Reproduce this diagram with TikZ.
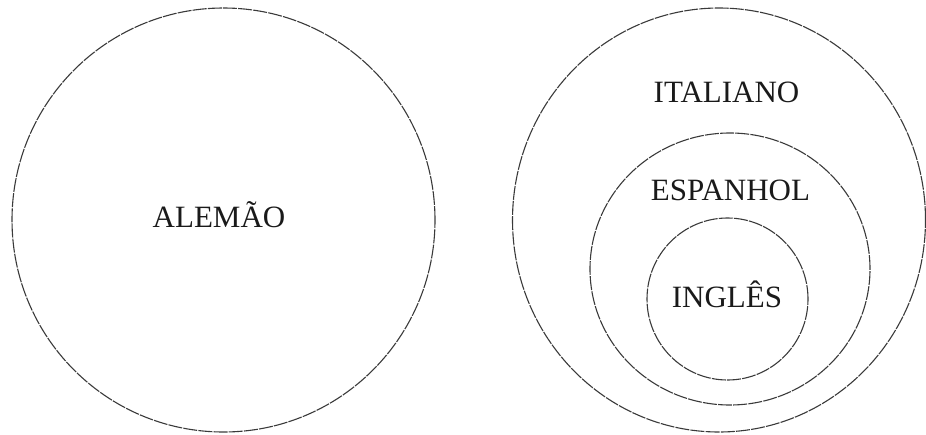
\documentclass[tikz,border=0pt]{standalone}
\usepackage{fontspec}
\setmainfont{Liberation Serif}
\usetikzlibrary{shapes.geometric,positioning}
\definecolor{vnLine}{HTML}{3A3A3A}
\definecolor{vnText}{HTML}{1A1A1A}
\tikzset{
  vn/.style={x=1pt, y=-1pt, line width=1.1pt},
  ring/.style={draw=vnLine, ellipse, inner sep=0pt, dash pattern=on 14pt off 1.2pt},
  lang/.style={font=\fontsize{31}{36}\selectfont, text=vnText, anchor=base, inner sep=0pt},
}
\begin{document}
\begin{tikzpicture}[vn]
\useasboundingbox (0,0) rectangle (926,434);
% left set
\node[ring, minimum width=423pt, minimum height=424pt] (alemao) at (223.5,220) {};
\node[lang] (tAlemao) at (219,227) {ALEMÃO};
% nested sets
\node[ring, minimum width=413pt, minimum height=424pt] (italiano) at (719,220) {};
\node[ring, minimum width=280pt, minimum height=272pt] (espanhol) at (730,269) {};
\node[ring, minimum width=161pt, minimum height=162pt] (ingles) at (727.5,299) {};
\node[lang] (tItaliano) at (726.5,102) {ITALIANO};
\node[lang] (tEspanhol) at (730.5,200) {ESPANHOL};
\node[lang] (tIngles) at (727,307) {INGLÊS};
\end{tikzpicture}
\end{document}
